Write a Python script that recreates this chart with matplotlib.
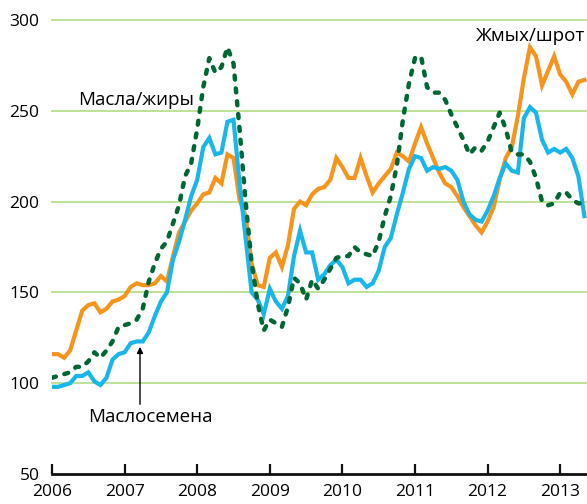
import numpy as np
import matplotlib
matplotlib.use('Agg')
import matplotlib.pyplot as plt

plt.rcParams['font.family'] = ['Open Sans', 'DejaVu Sans']

# месячные индексы цен, январь 2006 - май 2013
START_YEAR = 2006

meal = [116, 116, 114, 118, 129, 140, 143, 144, 139, 141, 145, 146,
        148, 153, 155, 154, 154, 155, 159, 156, 170, 183, 189, 195,
        199, 204, 205, 213, 210, 226, 224, 201, 192, 166, 154, 153,
        169, 172, 164, 176, 196, 200, 198, 204, 207, 208, 212, 224,
        219, 213, 213, 224, 214, 205, 210, 214, 218, 227, 225, 222,
        232, 241, 232, 224, 216, 210, 208, 203, 197, 192, 187, 183,
        189, 197, 212, 224, 230, 247, 268, 285, 280, 264, 272, 280,
        270, 266, 259, 266, 267]

seeds = [98, 98, 99, 100, 104, 104, 106, 101, 99, 103, 113, 116,
         117, 122, 123, 123, 128, 137, 145, 150, 168, 178, 190, 203,
         212, 230, 235, 226, 227, 244, 245, 210, 180, 150, 146, 138,
         152, 145, 141, 148, 170, 184, 172, 172, 157, 160, 165, 168,
         164, 155, 157, 157, 153, 155, 162, 175, 180, 193, 205, 218,
         225, 224, 217, 219, 218, 219, 217, 212, 200, 193, 190, 189,
         195, 203, 213, 221, 217, 216, 246, 252, 249, 234, 227, 229,
         227, 229, 224, 214, 192]

oils = [103, 104, 105, 106, 109, 109, 112, 117, 114, 118, 123, 131,
        132, 133, 135, 141, 156, 166, 174, 178, 188, 198, 214, 221,
        240, 263, 279, 271, 274, 285, 276, 240, 200, 166, 144, 129,
        135, 133, 131, 142, 158, 155, 146, 157, 152, 157, 163, 169,
        170, 170, 175, 172, 171, 170, 178, 192, 203, 220, 245, 265,
        279, 280, 263, 260, 260, 256, 248, 241, 234, 226, 230, 228,
        233, 241, 249, 240, 227, 226, 226, 222, 213, 200, 198, 199,
        205, 205, 201, 199, 199]

years = list(range(2006, 2014))
yticks = [50, 100, 150, 200, 250, 300]

t = START_YEAR + np.arange(len(meal)) / 12.0

fig = plt.figure(figsize=(5.87, 5.04), dpi=100)
ax = fig.add_axes([52 / 587, 1 - 474 / 504, 535 / 587, 454 / 504])

ax.set_xlim(2006, 2006 + 535 / 72.6)
ax.set_ylim(50, 300)

for y in yticks[1:]:
    ax.axhline(y, color='#b9df8f', lw=1.3, zorder=1, clip_on=False)

ax.plot(t, meal, color='#f7941d', lw=3.0, solid_joinstyle='miter', zorder=3)
ax.plot(t, seeds, color='#19b6ec', lw=3.0, solid_joinstyle='miter', zorder=4)
ax.plot(t, oils, color='#006633', lw=3.2, linestyle=(0, (0.9, 2.0)),
        dash_capstyle='round', zorder=5)

for s in ['top', 'right', 'left']:
    ax.spines[s].set_visible(False)
ax.spines['bottom'].set_linewidth(2.0)
ax.spines['bottom'].set_color('#111111')

ax.set_xticks(years)
ax.set_xticklabels([str(y) for y in years])
ax.set_yticks(yticks)
ax.set_yticklabels([str(y) for y in yticks])
ax.tick_params(axis='x', direction='in', length=7, width=1.6, color='#111111',
               labelsize=12.5, pad=7)
ax.tick_params(axis='y', length=0, labelsize=12.5, pad=9)

ax.text(2006.358, 256, 'Масла/жиры', fontsize=13.5, ha='left', va='center')
ax.text(2006.496, 81.3, 'Маслосемена', fontsize=13.5, ha='left', va='center')
ax.text(2013.35, 291.2, 'Жмых/шрот', fontsize=13.5, ha='right', va='center',
        clip_on=False)
ax.annotate('', xy=(2007.212, 120), xytext=(2007.212, 88.4),
            arrowprops=dict(arrowstyle='-|>', color='black', lw=1.0,
                            mutation_scale=9, shrinkA=0, shrinkB=0))

fig.savefig('out.png', dpi=100)
